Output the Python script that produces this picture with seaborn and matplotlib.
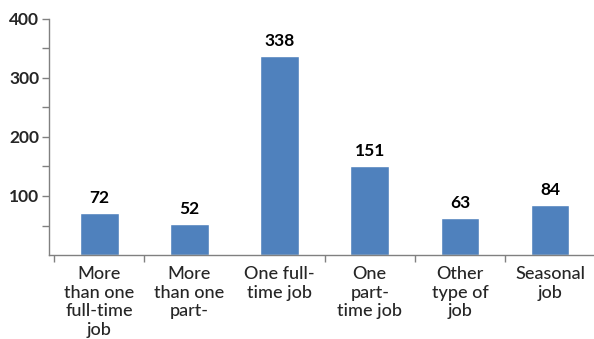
import matplotlib
matplotlib.use("Agg")
import matplotlib.pyplot as plt
import seaborn as sns
import pandas as pd
from matplotlib.ticker import FixedLocator

categories = ["More\nthan one\nfull-time\njob", "More\nthan one\npart-", "One full-\ntime job",
              "One\npart-\ntime job", "Other\ntype of\njob", "Seasonal\njob"]
values = [72, 52, 338, 151, 63, 84]
ytick_values = [100, 200, 300, 400]

sns.set_style("white")
plt.rcParams['font.family'] = ['Lato', 'DejaVu Sans']

df = pd.DataFrame({"cat": categories, "val": values})

fig = plt.figure(figsize=(5.94, 3.39), dpi=100)
ax = fig.add_axes([49/594, 1 - 255/339, 1 - 49/594, (255 - 19)/339])
sns.barplot(data=df, x="cat", y="val", color="#4F81BD", saturation=1, width=0.43, ax=ax)

ax.set_ylim(0, 400)
ax.set_xlim(-0.559, 5.488)
ax.set_xlabel("")
ax.set_ylabel("")

for p, v in zip(ax.patches, values):
    ax.annotate(str(v), (p.get_x() + p.get_width() / 2, p.get_height()),
                xytext=(0, 5), textcoords="offset points", ha="center", va="bottom",
                fontsize=12.5, fontweight="bold", color="black")

ax.yaxis.set_major_locator(FixedLocator(ytick_values))
ax.yaxis.set_minor_locator(FixedLocator([50, 150, 250, 350]))
ax.set_yticklabels([str(v) for v in ytick_values], fontsize=12.5, fontweight="bold")
ax.tick_params(axis="y", which="both", direction="out", length=5, width=1, color="#808080",
               left=True, pad=2)

ax.set_xticks(range(len(categories)))
ax.set_xticklabels(categories, fontsize=13, fontweight="medium", linespacing=1.2, va="top")
ax.tick_params(axis="x", which="major", length=0, pad=8)
ax.xaxis.set_minor_locator(FixedLocator([-0.5, 0.5, 2.5, 3.5, 4.5]))
ax.tick_params(axis="x", which="minor", direction="out", length=5, width=1, color="#808080", bottom=True)

for s in ["top", "right"]:
    ax.spines[s].set_visible(False)
for s in ["left", "bottom"]:
    ax.spines[s].set_color("#808080")
    ax.spines[s].set_linewidth(1)

fig.savefig("out.png", dpi=100)
